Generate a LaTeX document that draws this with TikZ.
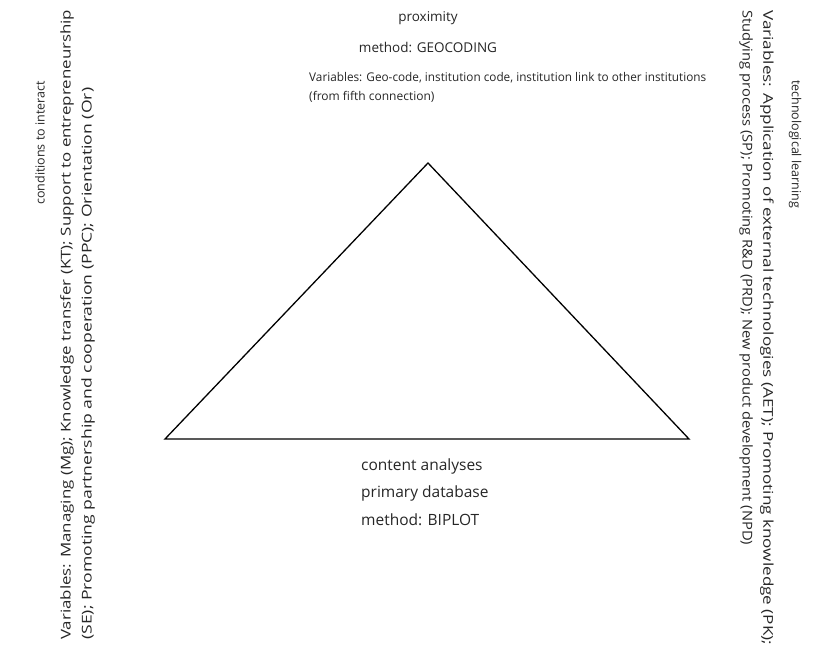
\documentclass[tikz,border=0pt]{standalone}
\usepackage{fontspec}
\usepackage{graphicx}
\setmainfont{Open Sans}
\newcommand{\fitlen}[2]{\resizebox{#1}{\height}{#2}}
\begin{document}
\begin{tikzpicture}[x=1pt,y=-1pt,
  lbl/.style={inner sep=0pt, text=black!85},
  headf/.style={lbl, font=\fontsize{13.5}{19}\selectfont},
  topf/.style={lbl, font=\fontsize{12}{19}\selectfont},
  botf/.style={lbl, font=\fontsize{15.5}{20}\selectfont},
  sidef/.style={lbl, font=\fontsize{12.5}{20}\selectfont},
  sidev/.style={lbl, font=\fontsize{13.5}{20}\selectfont},
  tri/.style={draw=black, line width=1.3pt, line join=miter}]
\useasboundingbox (0,0) rectangle (832,652);
\coordinate (A) at (428,163);
\coordinate (B) at (165,439);
\coordinate (C) at (689,439);
\draw[tri] (A) -- (B) -- (C) -- cycle;
% top
\node[headf] (prox) at (428,18) {proximity};
\node[headf] (geo) at (428,47) {method: GEOCODING};
\node[topf, anchor=west] (geovar1) at (309,78) {\fitlen{397pt}{Variables: Geo-code, institution code, institution link to other institutions}};
\node[topf, anchor=west] (geovar2) at (309,97) {(from fifth connection)};
% bottom
\node[botf, anchor=west] (ca) at (361,466) {content analyses};
\node[botf, anchor=west] (pd) at (361,493) {primary database};
\node[botf, anchor=west] (bi) at (361,520) {method: BIPLOT};
% left
\node[sidef, rotate=90] (cond) at (40,143) {conditions to interact};
\node[sidev, rotate=90, anchor=west] (condvar1) at (67,640) {\fitlen{630pt}{Variables: Managing (Mg); Knowledge transfer (KT); Support to entrepreneurship}};
\node[sidev, rotate=90, anchor=west] (condvar2) at (88,640) {\fitlen{552pt}{(SE); Promoting partnership and cooperation (PPC); Orientation (Or)}};
% right
\node[sidef, rotate=-90] (tech) at (795,144) {technological learning};
\node[sidev, rotate=-90, anchor=west] (techvar1) at (767,10) {\fitlen{635pt}{Variables: Application of external technologies (AET); Promoting knowledge (PK);}};
\node[sidev, rotate=-90, anchor=west] (techvar2) at (746,10) {\fitlen{535pt}{Studying process (SP); Promoting R\&D (PRD); New product development (NPD)}};
\end{tikzpicture}
\end{document}
